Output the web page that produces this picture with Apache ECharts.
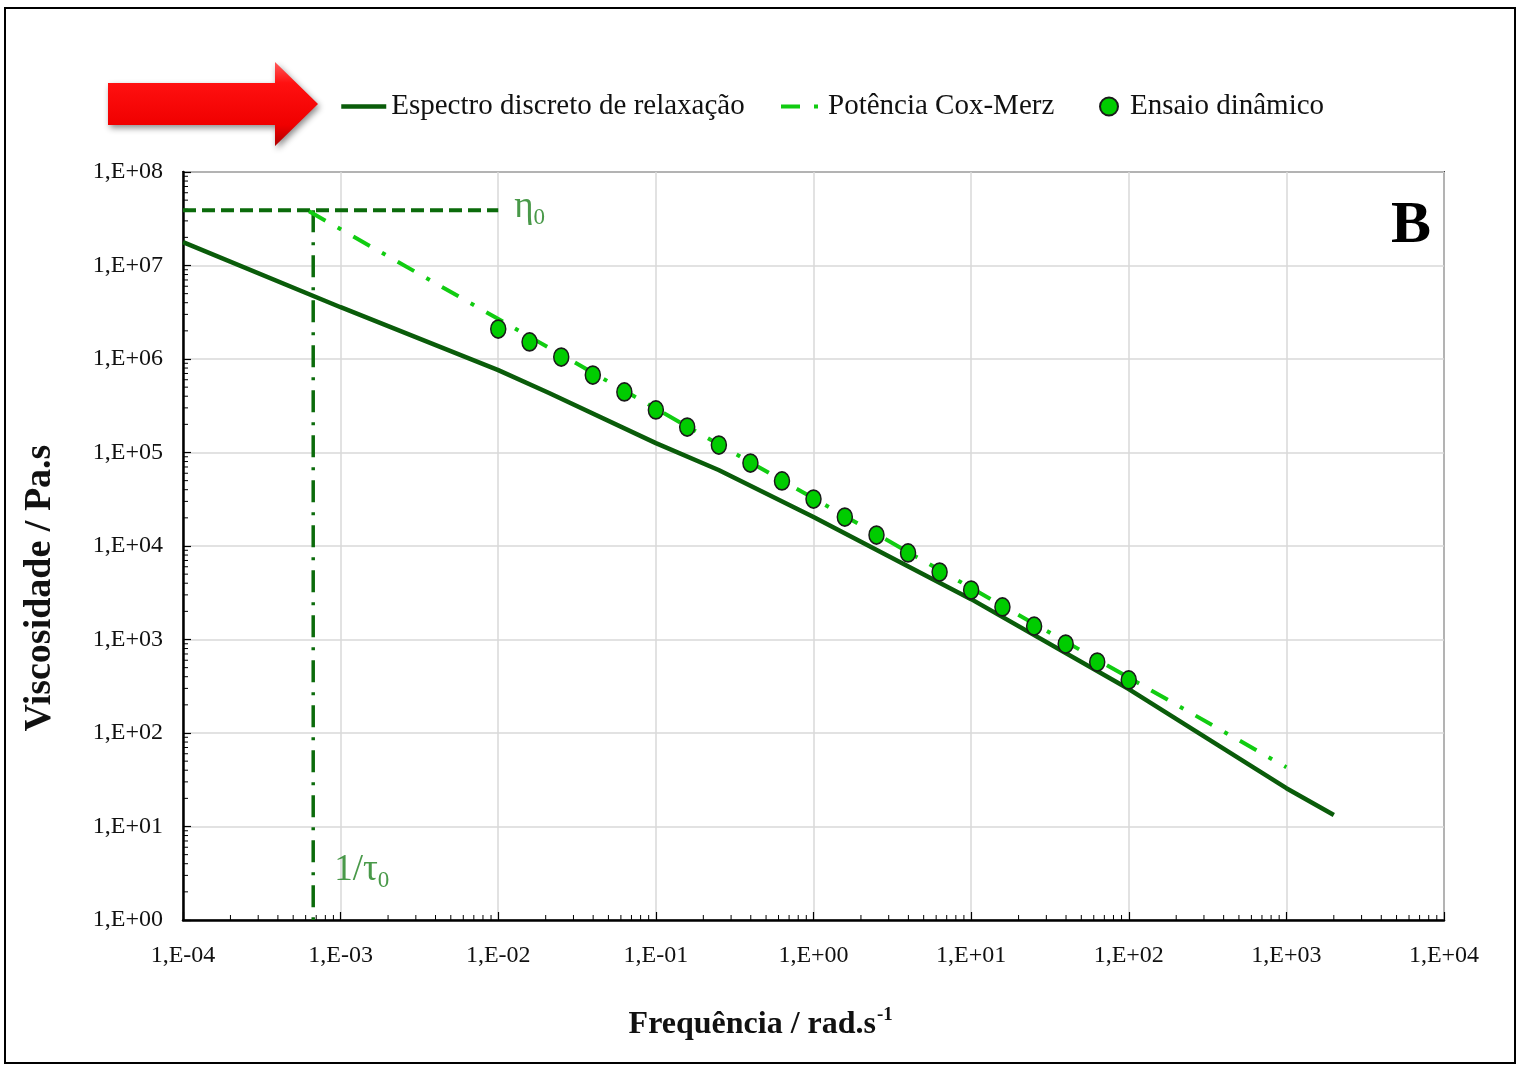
<!DOCTYPE html>
<html><head><meta charset="utf-8">
<script src="https://cdn.jsdelivr.net/npm/echarts@6/dist/echarts.min.js"></script>
<style>html,body{margin:0;padding:0;background:#fff}#c{width:1519px;height:1066px}</style>
</head><body><div id="c"></div>
<script>
// ---- data ----
const xTickLabels = ['1,E-04','1,E-03','1,E-02','1,E-01','1,E+00','1,E+01','1,E+02','1,E+03','1,E+04'];
const yTickLabels = ['1,E+00','1,E+01','1,E+02','1,E+03','1,E+04','1,E+05','1,E+06','1,E+07','1,E+08'];

const spectrumFreq = [1e-4, 1e-3, 1e-2, 2.1e-2, 1e-1, 0.25, 1, 10, 100, 1000, 2000];
const spectrumVisc = [1.78e7, 3.58e6, 7.6e5, 4.33e5, 1.26e5, 6.5e4, 2.04e4, 2.7e3, 295, 25.7, 13.3];

const coxFreq = [6.3e-4, 1000];
const coxVisc = [3.8e7, 43];

const dynFreq = [0.01, 0.0158, 0.0251, 0.0398, 0.0631, 0.1, 0.158, 0.251, 0.398, 0.631, 1, 1.58, 2.51, 3.98, 6.31, 10, 15.8, 25.1, 39.8, 63.1, 100];
const dynVisc = [2.09e6, 1.52e6, 1.05e6, 6.74e5, 4.44e5, 2.85e5, 1.87e5, 1.20e5, 7.72e4, 4.96e4, 3.18e4, 2.04e4, 1.31e4, 8.42e3, 5.27e3, 3.38e3, 2.23e3, 1.39e3, 895, 574, 369];

const eta0 = 3.9e7;
const eta0Freq = [1e-4, 1e-2];
const invTau0 = 6.7e-4;
const tau0LabelVisc = 3.4;

const seriesNames = ['Espectro discreto de relaxação', 'Potência Cox-Merz', 'Ensaio dinâmico'];

// ---- helpers ----
const zip = (a, b) => a.map((v, i) => [v, b[i]]);
const expOf = v => Math.round(Math.log10(v));
const minorX = [], minorY = [];
for (let k = -4; k < 4; k++) for (let m = 2; m <= 9; m++) minorX.push([m * Math.pow(10, k), 1]);
for (let k = 0; k < 8; k++) for (let m = 2; m <= 9; m++) minorY.push([1e-4, m * Math.pow(10, k)]);

const FONT = '"Liberation Serif", "DejaVu Serif", serif';
const DARK = '#0a5c0a';
const LIME = '#11cc11';
const ANNO = '#1b7f1b';
const legendText = {fontFamily: FONT, fontSize: 29, color: '#111'};

const chart = echarts.init(document.getElementById('c'), null, {renderer: 'canvas'});
chart.setOption({
  animation: false,
  backgroundColor: '#fff',
  grid: {left: 183, right: 75, top: 172, bottom: 146, show: true, borderColor: '#444', borderWidth: 2},
  legend: [
    {data: [{name: seriesNames[0], itemStyle: {opacity: 0}}], left: 334, top: 87, itemWidth: 45, itemHeight: 14,
     lineStyle: {width: 4.5}, textStyle: legendText},
    {data: [{name: seriesNames[1], itemStyle: {opacity: 0}}], left: 774, top: 87, itemWidth: 42, itemHeight: 14,
     lineStyle: {width: 4}, textStyle: legendText},
    {data: [seriesNames[2]], left: 1094, top: 87, itemWidth: 32, itemHeight: 18, textStyle: legendText}
  ],
  xAxis: {
    type: 'log', logBase: 10, min: 1e-4, max: 1e4, interval: 1,
    axisLine: {show: true, lineStyle: {color: '#000', width: 2.5}},
    axisTick: {show: true, inside: true, length: 8, lineStyle: {color: '#000', width: 1.2}},
    axisLabel: {margin: 24, fontFamily: FONT, fontSize: 24, color: '#111',
      formatter: v => xTickLabels[expOf(v) + 4]},
    splitLine: {show: true, lineStyle: {color: '#d9d9d9', width: 1.5}}
  },
  yAxis: {
    type: 'log', logBase: 10, min: 1, max: 1e8, interval: 1,
    axisLine: {show: true, lineStyle: {color: '#000', width: 2.5}},
    axisTick: {show: true, inside: true, length: 8, lineStyle: {color: '#000', width: 1.2}},
    axisLabel: {margin: 20, fontFamily: FONT, fontSize: 24, color: '#111',
      formatter: v => yTickLabels[expOf(v)]},
    splitLine: {show: true, lineStyle: {color: '#d9d9d9', width: 1.5}}
  },
  series: [
    {type: 'custom', silent: true, z: 1, data: minorX,
     renderItem: (params, api) => {
       const p = api.coord([api.value(0), api.value(1)]);
       return {type: 'line', shape: {x1: p[0], y1: p[1], x2: p[0], y2: p[1] - 5}, style: {stroke: '#000', lineWidth: 1}};
     }},
    {type: 'custom', silent: true, z: 1, data: minorY,
     renderItem: (params, api) => {
       const p = api.coord([api.value(0), api.value(1)]);
       return {type: 'line', shape: {x1: p[0], y1: p[1], x2: p[0] + 5, y2: p[1]}, style: {stroke: '#000', lineWidth: 1}};
     }},
    {name: 'eta0', type: 'line', symbol: 'none', z: 2, silent: true,
     data: eta0Freq.map(f => [f, eta0]),
     lineStyle: {color: '#0b6b0b', width: 4, type: [13, 6]}},
    {name: 'tau0', type: 'line', symbol: 'none', z: 2, silent: true,
     data: [[invTau0, eta0], [invTau0, 1]],
     lineStyle: {color: '#0b6b0b', width: 3.5, type: [22, 10, 3, 10]}},
    {name: seriesNames[0], type: 'line', symbol: 'none', z: 3,
     data: zip(spectrumFreq, spectrumVisc),
     lineStyle: {color: DARK, width: 4.5}, itemStyle: {color: DARK}},
    {name: seriesNames[1], type: 'line', symbol: 'none', z: 4,
     data: zip(coxFreq, coxVisc),
     lineStyle: {color: LIME, width: 4, type: [19, 14, 4, 14]}, itemStyle: {color: LIME}},
    {name: seriesNames[2], type: 'scatter', symbol: 'circle', symbolSize: [15, 18], z: 5,
     data: zip(dynFreq, dynVisc),
     itemStyle: {color: '#00cc00', borderColor: '#1a1a1a', borderWidth: 1.6, opacity: 1}},
    {name: 'anno', type: 'scatter', symbolSize: 0, z: 6, silent: true,
     data: [
       {value: [eta0Freq[1], eta0], label: {show: true, position: 'right', distance: 16, offset: [0, -3],
         formatter: '{e|η}{s|0}'}},
       {value: [invTau0, tau0LabelVisc], label: {show: true, position: 'right', distance: 21,
         formatter: '{e|1/τ}{s|0}'}}
     ],
     label: {color: ANNO, rich: {
       e: {fontFamily: FONT, fontSize: 37, color: ANNO, lineHeight: 44, verticalAlign: 'middle'},
       s: {fontFamily: FONT, fontSize: 23, color: ANNO, lineHeight: 44, verticalAlign: 'bottom'}
     }}}
  ],
  graphic: [
    {type: 'rect', silent: true, z: 100, shape: {x: 5, y: 8, width: 1510, height: 1055},
     style: {fill: 'none', stroke: '#000', lineWidth: 2}},
    {type: 'polygon', silent: true, z: 100,
     shape: {points: [[108, 83], [275, 83], [275, 62], [318, 104], [275, 146], [275, 125], [108, 125]]},
     style: {
       fill: new echarts.graphic.LinearGradient(0, 0, 0, 1, [
         {offset: 0, color: '#ff5a5a'}, {offset: 0.25, color: '#ff1010'},
         {offset: 0.75, color: '#f00000'}, {offset: 1, color: '#b00000'}]),
       shadowBlur: 6, shadowColor: 'rgba(0,0,0,0.45)', shadowOffsetX: 2, shadowOffsetY: 3
     }},
    {type: 'text', silent: true, z: 100, x: 40, y: 588, rotation: Math.PI / 2,
     style: {text: 'Viscosidade / Pa.s', font: 'bold 38px ' + FONT, fill: '#111',
       align: 'center', verticalAlign: 'middle', textAlign: 'center', textVerticalAlign: 'middle'}},
    {type: 'text', silent: true, z: 100, x: 876, y: 1025,
     style: {text: 'Frequência / rad.s', font: 'bold 32px ' + FONT, fill: '#111',
       align: 'right', verticalAlign: 'middle', textAlign: 'right', textVerticalAlign: 'middle'}},
    {type: 'text', silent: true, z: 100, x: 877, y: 1015,
     style: {text: '-1', font: 'bold 19px ' + FONT, fill: '#111',
       align: 'left', verticalAlign: 'middle', textAlign: 'left', textVerticalAlign: 'middle'}},
    {type: 'text', silent: true, z: 100, x: 1411, y: 226,
     style: {text: 'B', font: 'bold 60px ' + FONT, fill: '#000',
       align: 'center', verticalAlign: 'middle', textAlign: 'center', textVerticalAlign: 'middle'}}
  ]
});
</script></body></html>
